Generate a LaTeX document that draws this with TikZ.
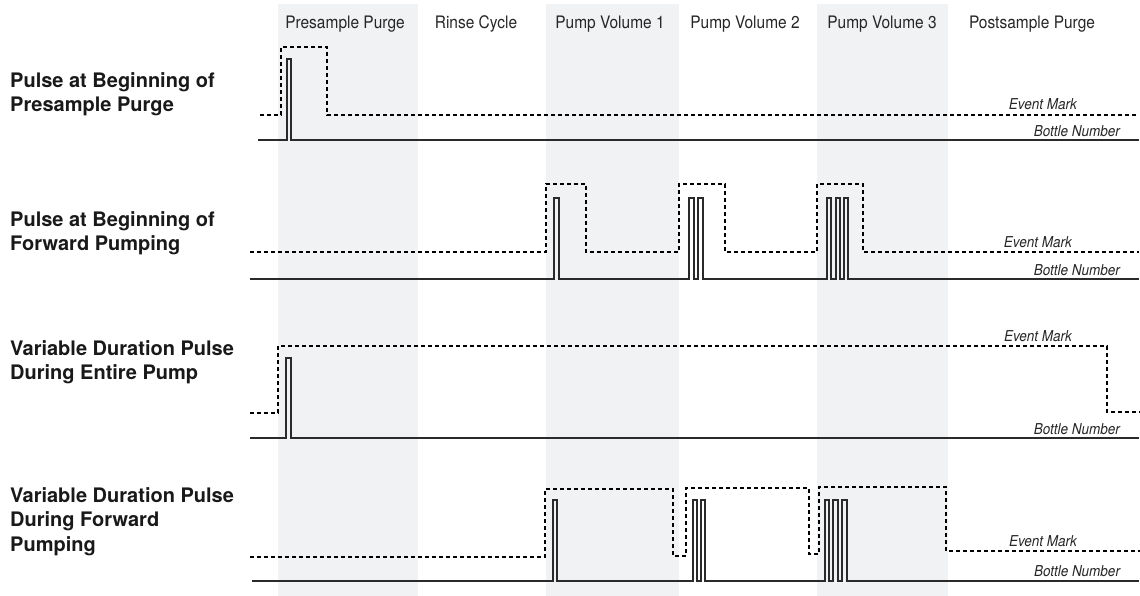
\documentclass[tikz,border=0pt]{standalone}
\usepackage{fontspec}
\setmainfont{TeX Gyre Heros}
\newfontfamily\narrowfont[FakeStretch=0.9]{TeX Gyre Heros}
\definecolor{colShade}{HTML}{F1F2F4}
\definecolor{colLine}{HTML}{2A2A2A}
\tikzset{
  colband/.style={fill=colShade, draw=none},
  bottle/.style={draw=colLine, line width=1.1pt, line join=miter},
  event/.style={draw=black, line width=1.2pt, dash pattern=on 4pt off 3pt},
  rowlabel/.style={font=\fontsize{20}{24.5}\selectfont\bfseries, align=left, anchor=north west, inner sep=0pt, text=black!90},
  colhead/.style={font=\narrowfont\fontsize{17.2}{20}\selectfont, inner sep=0pt, text=black!85},
  sigtag/.style={font=\narrowfont\fontsize{15}{17}\selectfont\itshape, inner sep=0pt, text=black!85}
}
\begin{document}
\begin{tikzpicture}[x=1pt,y=-1pt]
\useasboundingbox (0,0) rectangle (1140,596);
% shaded columns
\fill[colband] (278,4) rectangle (418,596);
\fill[colband] (546,4) rectangle (679,596);
\fill[colband] (817,4) rectangle (948,596);
% column headings
\node[colhead] (h1) at (345,24) {Presample Purge};
\node[colhead] (h2) at (476,24) {Rinse Cycle};
\node[colhead] (h3) at (610,24) {Pump Volume 1};
\node[colhead] (h4) at (745,24) {Pump Volume 2};
\node[colhead] (h5) at (882,24) {Pump Volume 3};
\node[colhead] (h6) at (1032,24) {Postsample Purge};
% row labels
\node[rowlabel] (r1) at (10,72) {Pulse at Beginning of\\Presample Purge};
\node[rowlabel] (r2) at (10,211) {Pulse at Beginning of\\Forward Pumping};
\node[rowlabel] (r3) at (10,340) {Variable Duration Pulse\\During Entire Pump};
\node[rowlabel] (r4) at (10,487) {Variable Duration Pulse\\During Forward\\Pumping};
% ---------- row 1
\draw[event] (260,115) -- (281,115) -- (281,47) -- (327,47) -- (327,115) -- (1138,115);
\draw[bottle] (258,140) -- (287,140) -- (287,59) -- (291,59) -- (291,140) -- (1139,140);
\node[sigtag, anchor=east] (e1) at (1077,104) {Event Mark};
\node[sigtag, anchor=east] (b1) at (1120,131) {Bottle Number};
% ---------- row 2
\draw[event] (250,252) -- (546,252) -- (546,184) -- (586,184) -- (586,252)
  -- (679,252) -- (679,184) -- (725,184) -- (725,252)
  -- (817,252) -- (817,184) -- (863,184) -- (863,252) -- (1139,252);
\draw[bottle] (250,279) -- (554,279) -- (554,198) -- (559,198) -- (559,279)
  -- (689,279) -- (689,198) -- (694,198) -- (694,279)
  -- (698,279) -- (698,198) -- (703,198) -- (703,279)
  -- (827,279) -- (827,198) -- (831,198) -- (831,279)
  -- (836,279) -- (836,198) -- (840,198) -- (840,279)
  -- (844,279) -- (844,198) -- (848,198) -- (848,279) -- (1139,279);
\node[sigtag, anchor=east] (e2) at (1072,242) {Event Mark};
\node[sigtag, anchor=east] (b2) at (1120,270) {Bottle Number};
% ---------- row 3
\draw[event] (250,413) -- (278,413) -- (278,346) -- (1107,346) -- (1107,412) -- (1140,412);
\draw[bottle] (250,438) -- (286,438) -- (286,358) -- (291,358) -- (291,438) -- (1139,438);
\node[sigtag] (e3) at (1038,336) {Event Mark};
\node[sigtag, anchor=east] (b3) at (1120,429) {Bottle Number};
% ---------- row 4
\draw[event] (250,557) -- (545,557) -- (545,489) -- (673,489) -- (673,556)
  -- (686,556) -- (686,488) -- (809,488) -- (809,554)
  -- (819,554) -- (819,487) -- (946,487) -- (946,551) -- (1140,551);
\draw[bottle] (252,581) -- (553,581) -- (553,500) -- (557,500) -- (557,581)
  -- (693,581) -- (693,500) -- (697,500) -- (697,581)
  -- (701,581) -- (701,500) -- (705,500) -- (705,581)
  -- (825,581) -- (825,500) -- (829,500) -- (829,581)
  -- (833,581) -- (833,500) -- (838,500) -- (838,581)
  -- (842,581) -- (842,500) -- (847,500) -- (847,581) -- (1139,581);
\node[sigtag] (e4) at (1043,541) {Event Mark};
\node[sigtag] (b4) at (1077,571) {Bottle Number};
\end{tikzpicture}
\end{document}
